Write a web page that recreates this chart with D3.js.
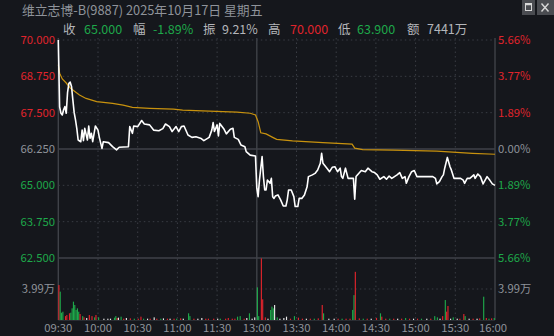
<!DOCTYPE html>
<html><head><meta charset="utf-8">
<script src="https://cdn.jsdelivr.net/npm/d3@7"></script>
<style>
html,body{margin:0;padding:0;background:#15171c;overflow:hidden;}
svg{display:block;}
text{font-family:"Noto Sans CJK SC","Noto Sans",sans-serif;}
</style></head><body>
<svg id="c" width="554" height="336"></svg>
<script>
// ---------- data ----------
const title = "维立志博-B(9887) 2025年10月17日 星期五";
const quoteLabels = ["收","幅","振","高","低","额"];
const quoteValues = ["65.000","-1.89%","9.21%","70.000","63.900","7441万"];
const quoteTones = ["down","down","flat","up","down","flat"];
const priceTicks = [70, 68.75, 67.5, 66.25, 65, 63.75, 62.5];
const pctLabels = ["5.66%","3.77%","1.89%","0.00%","1.89%","3.77%","5.66%"];
const prevClose = 66.25;
const volTick = 3.99;
const volTickLabel = "3.99万";
const volMax = 7.98;
const timeTicks = [0,30,60,90,120,150,180,210,240,270,300,330];
const timeLabels = ["09:30","10:00","10:30","11:00","11:30","13:00","13:30","14:00","14:30","15:00","15:30","16:00"];

// minutes since 09:30 (trading minutes, lunch removed)
const priceMin = [0,1,2,3,4,5,6,7,8,9,10,11,12,13,14,15,17,18,19,20,22,23,24,25,26,28,30,31,33,34,38,41,44,46,53,54,56,57,60,63,65,69,72,76,79,81,84,86,89,91,93,95,98,101,104,108,110,114,116,117,118,120,121,122,125,127,130,132,133,136,138,141,142,145,149,
150,151,152,154,155,156,157,158,160,161,162,163,164,166,168,170,172,173,174,176,178,179,181,182,184,186,188,189,192,194,196,198,199,200,203,205,207,209,211,213,214,215,217,219,223,224,225,227,229,232,234,237,239,241,243,246,248,250,252,254,256,258,260,262,263,265,267,269,271,275,278,283,285,286,288,290,291,292,294,296,297,299,301,304,306,307,309,311,314,315,317,319,321,324,326,328,330];
const priceVal = [70.00,67.70,67.48,67.42,67.60,67.71,67.48,68.20,68.51,68.55,68.40,67.94,67.50,67.25,66.95,66.56,66.50,66.90,66.54,66.96,66.56,67.04,66.62,66.79,66.50,67.04,66.90,66.65,66.27,66.50,66.47,66.33,66.22,66.31,66.33,67.02,66.79,67.04,67.02,67.23,67.11,67.08,66.90,66.88,66.95,67.11,67.02,66.85,67.02,66.85,67.02,67.04,66.73,66.65,66.67,66.61,66.54,66.65,66.90,67.16,66.85,67.08,66.70,67.13,66.95,66.77,66.93,66.96,66.65,66.58,66.39,66.33,66.16,66.04,66.01,
64.90,64.61,65.18,65.99,65.30,64.84,64.84,65.18,65.07,65.24,64.61,64.55,64.63,64.67,64.50,64.29,64.29,64.50,64.84,64.84,64.61,64.27,64.27,64.55,64.55,64.67,64.95,65.30,65.36,65.41,65.53,65.76,66.10,65.76,65.59,65.47,65.62,65.64,65.47,65.59,65.30,65.24,65.59,65.24,65.24,64.52,65.30,65.41,65.51,65.47,65.59,65.47,65.44,65.36,65.21,65.30,65.21,65.32,65.24,65.30,65.36,65.44,65.24,65.30,65.07,65.30,65.47,65.51,65.30,65.30,65.30,65.30,65.24,65.05,65.13,65.30,65.36,65.59,65.96,65.64,65.53,65.24,65.24,65.24,65.18,65.07,65.24,65.24,65.36,65.24,65.39,65.30,65.05,65.30,65.18,65.05,65.00];

const avgMin = [0,1,3,6,9,16,21,29,41,49,56,69,87,94,109,135,145,149,151,153,157,162,165,177,200,222,224,230,253,286,298,313,330];
const avgVal = [69.15,68.86,68.66,68.52,68.35,68.11,67.99,67.88,67.82,67.76,67.68,67.65,67.62,67.59,67.56,67.52,67.48,67.42,67.19,66.81,66.77,66.65,66.58,66.53,66.47,66.42,66.28,66.23,66.21,66.18,66.14,66.10,66.07];

// volume in 万 per minute, direction: u=up(red) d=down(green) f=flat(white)
const volMin = [0,1,2,3,5,6,8,9,10,11,12,13,14,15,16,18,19,21,23,25,27,28,30,34,37,39,42,43,44,45,47,49,51,54,57,60,62,64,67,69,72,74,77,79,82,84,87,89,92,94,98,99,102,105,108,111,113,117,120,122,126,128,131,133,135,137,140,142,144,146,148,
150,151,153,154,156,158,160,161,162,163,165,167,170,172,175,178,181,184,187,190,193,196,199,200,204,208,211,214,217,220,222,223,224,227,230,233,236,240,243,244,247,250,253,256,259,262,265,268,271,274,278,281,284,286,288,290,292,293,294,296,298,301,303,306,307,310,313,316,318,321,323,325,327,329];
const volVal = [4.50,3.65,0.94,1.07,0.50,0.64,0.86,0.94,1.50,2.36,1.93,1.29,1.50,1.07,0.77,0.50,0.34,0.26,0.64,0.50,0.34,0.64,0.34,0.17,0.17,0.17,0.30,0.50,0.26,0.30,0.43,0.17,0.26,0.21,0.17,0.17,0.43,0.17,0.17,0.17,0.34,0.17,0.17,0.21,0.17,0.17,0.17,0.17,0.21,0.17,0.86,0.50,0.17,0.17,0.26,0.17,0.17,0.17,0.17,0.17,0.17,0.26,0.17,0.17,0.43,0.50,0.17,0.26,0.86,0.17,0.34,
4.20,0.50,7.94,2.66,0.34,0.17,1.29,1.72,1.50,1.93,0.34,0.17,0.26,0.43,0.17,0.50,0.30,0.17,0.17,0.17,0.17,0.21,1.93,0.86,0.17,0.17,0.17,0.17,0.17,0.17,1.30,3.20,6.20,0.21,0.17,0.17,0.17,0.26,0.86,0.43,0.17,0.17,0.17,0.17,0.17,0.26,0.17,0.17,0.17,0.17,0.17,0.17,0.50,0.34,0.17,0.50,2.57,1.07,1.80,0.17,0.34,0.17,0.17,0.77,0.50,0.17,0.17,0.17,0.21,3.00,0.26,0.17,0.21,0.26];
const volDir = ("uddduuuddd" + "ddddudufuu" + "dudfffdduf" + "dufuduudfu" + "fudfufuduf" + "dduffuuufd" + "uuuuddufdf" + "f" +
  "dduuufdddf" + "dfffuduufu" + "duudffuduu" + "dduudufudu" + "udufudufud" + "fuddfuduuf" + "dfuudfufud" + "udud").split("");

// ---------- layout ----------
const W = 554, H = 336;
const L = 58.3, R = 495;
const priceTop = 40, priceBottom = 258, volBottom = 320, gridTop = 38;
const C = {bg:"#15171c", grid:"#3a3d44", solid:"#3f4248", text:"#8f939a", label:"#b4b6ba",
  red:"#e0242c", green:"#1ea84a", white:"#e8e8e8", avg:"#c8920e", price:"#ffffff"};
const toneColor = t => t === "up" ? C.red : t === "down" ? C.green : C.label;

const svg = d3.select("#c");
svg.append("rect").attr("width", W).attr("height", H).attr("fill", C.bg);

const x = d3.scaleLinear().domain([0, 330]).range([L, R]);
const y = d3.scaleLinear().domain([62.5, 70]).range([priceBottom, priceTop]);
const yv = d3.scaleLinear().domain([0, volMax]).range([volBottom, priceBottom]);

// header
svg.append("text").attr("x", 22).attr("y", 14.5).attr("font-size", 12.8)
  .attr("fill", C.text).text(title);
const hdrX = [63, 133, 203, 268, 338, 407];
const valX = [84, 153, 222, 290, 357, 427];
quoteLabels.forEach((q, i) => {
  svg.append("text").attr("x", hdrX[i]).attr("y", 33.5).attr("font-size", 12.5)
    .attr("fill", C.label).text(q);
  svg.append("text").attr("x", valX[i]).attr("y", 33.5).attr("font-size", 12.5)
    .attr("fill", toneColor(quoteTones[i])).text(quoteValues[i]);
});
// window buttons
svg.append("rect").attr("x", 522).attr("y", 0).attr("width", 13).attr("height", 15).attr("fill", "#4a4c51");
svg.append("rect").attr("x", 525.5).attr("y", 3.5).attr("width", 6).attr("height", 7).attr("fill", "none")
  .attr("stroke", "#d8d8d8").attr("stroke-width", 1);
svg.append("line").attr("x1", 525.5).attr("x2", 531.5).attr("y1", 4.5).attr("y2", 4.5).attr("stroke", "#d8d8d8").attr("stroke-width", 1.5);
svg.append("rect").attr("x", 537).attr("y", 0).attr("width", 17).attr("height", 15).attr("fill", "#4a4c51");
svg.append("path").attr("d", "M541.5,3.5 L548.5,11.5 M548.5,3.5 L541.5,11.5").attr("stroke", "#d8d8d8").attr("stroke-width", 1.4);

// grid
const g = svg.append("g");
timeTicks.forEach((t, i) => {
  const solid = (t === 150 || t === 0 || t === 330);
  g.append("line").attr("x1", x(t)).attr("x2", x(t)).attr("y1", gridTop).attr("y2", volBottom)
    .attr("stroke", solid ? C.solid : C.grid).attr("stroke-width", solid ? 1.4 : 1)
    .attr("stroke-dasharray", solid ? null : "1.5,3");
});
priceTicks.forEach(p => {
  const solid = (p === prevClose || p === 62.5);
  g.append("line").attr("x1", L).attr("x2", R).attr("y1", y(p)).attr("y2", y(p))
    .attr("stroke", solid ? C.solid : C.grid).attr("stroke-width", solid ? 1.4 : 1)
    .attr("stroke-dasharray", solid ? null : "1.5,3");
});
g.append("line").attr("x1", L).attr("x2", R).attr("y1", yv(volTick)).attr("y2", yv(volTick))
  .attr("stroke", C.grid).attr("stroke-dasharray", "1.5,3");
g.append("line").attr("x1", L).attr("x2", R).attr("y1", volBottom + 0.5).attr("y2", volBottom + 0.5)
  .attr("stroke", "#2a2d33");

// axis labels
const leftColor = p => p > prevClose ? C.red : p < prevClose ? C.green : C.text;
priceTicks.forEach((p, i) => {
  svg.append("text").attr("x", 55).attr("y", y(p)).attr("dy", "0.36em").attr("text-anchor", "end")
    .attr("font-size", 11.3).attr("fill", leftColor(p)).text(p.toFixed(3));
  svg.append("text").attr("x", 498).attr("y", y(p)).attr("dy", "0.36em")
    .attr("font-size", 11.3).attr("fill", leftColor(p)).text(pctLabels[i]);
});
svg.append("text").attr("x", 55).attr("y", yv(volTick)).attr("dy", "0.36em").attr("text-anchor", "end")
  .attr("font-size", 11.3).attr("fill", C.text).text(volTickLabel);
svg.append("text").attr("x", 498).attr("y", yv(volTick)).attr("dy", "0.36em")
  .attr("font-size", 11.3).attr("fill", C.text).text(volTickLabel);
timeTicks.forEach((t, i) => {
  svg.append("text").attr("x", t === 330 ? x(t) - 2 : x(t)).attr("y", 328).attr("dy", "0.36em")
    .attr("text-anchor", "middle").attr("font-size", 11.3).attr("fill", C.text).text(timeLabels[i]);
});

// volume bars
const bw = 1.15;
const vcol = {u: C.red, d: C.green, f: C.white};
svg.append("g").selectAll("rect").data(volMin.map((m, i) => ({m, v: volVal[i], d: volDir[i]})))
  .join("rect")
  .attr("x", d => x(d.m) - bw / 2 + 0.6).attr("width", bw)
  .attr("y", d => yv(d.v)).attr("height", d => volBottom - yv(d.v))
  .attr("fill", d => vcol[d.d] || C.white);

// average line
const avgPts = avgMin.map((m, i) => [m, avgVal[i]]);
svg.append("path").datum(avgPts)
  .attr("d", d3.line().x(d => x(d[0])).y(d => y(d[1])))
  .attr("fill", "none").attr("stroke", C.avg).attr("stroke-width", 1.2);

// price line
const pricePts = priceMin.map((m, i) => [m, priceVal[i]]);
svg.append("path").datum(pricePts)
  .attr("d", d3.line().x(d => x(d[0])).y(d => y(d[1])))
  .attr("fill", "none").attr("stroke", C.price).attr("stroke-width", 1.6)
  .attr("stroke-linejoin", "round");
</script>
</body></html>
